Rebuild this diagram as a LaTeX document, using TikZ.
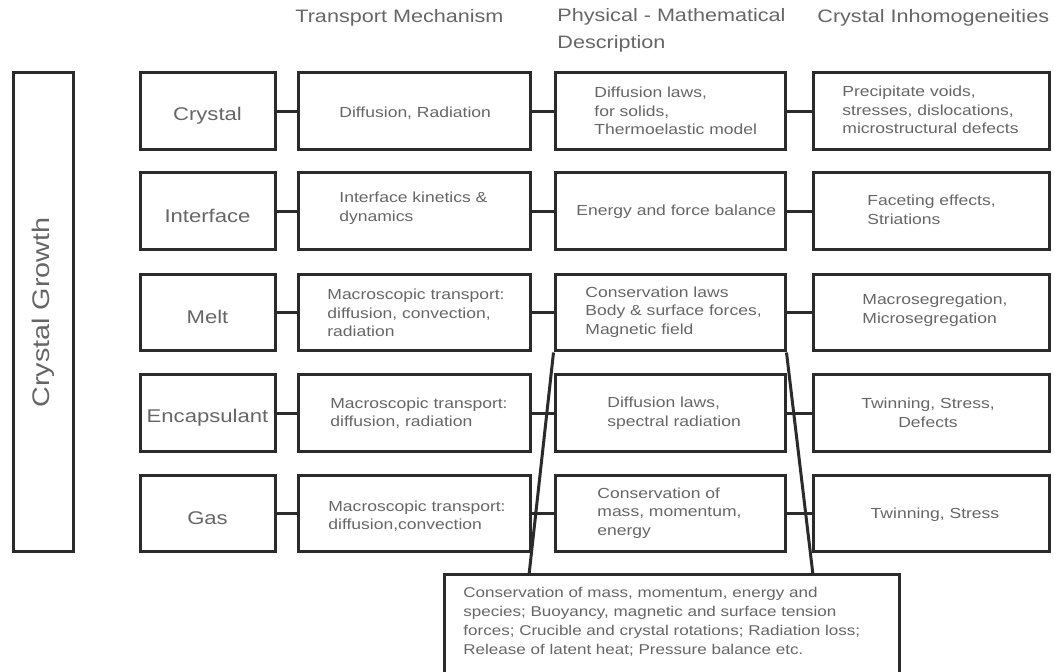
\documentclass[tikz,border=0pt]{standalone}
\usepackage{fontspec}
\setmainfont{Liberation Sans}[FakeStretch=1.2]
\usetikzlibrary{fit}
\definecolor{linec}{gray}{0.17}
\definecolor{txtc}{gray}{0.4}
\begin{document}
\begin{tikzpicture}[x=0.5pt,y=-0.5pt,
  box/.style={draw=linec, line width=1.5pt, inner sep=0pt, fill=none},
  conn/.style={draw=linec, line width=1.5pt},
  txt/.style={text=txtc, inner sep=0pt, align=left, font=\fontsize{7.3pt}{9.25pt}\selectfont},
  ctxt/.style={txt, align=center},
  lbl/.style={text=txtc, inner sep=0pt, font=\fontsize{9.2pt}{11pt}\selectfont},
  head/.style={text=txtc, inner sep=0pt, align=left, anchor=west, font=\fontsize{9pt}{13.5pt}\selectfont},
  bottxt/.style={text=txtc, inner sep=0pt, align=left, anchor=west, font=\fontsize{7.1pt}{9.5pt}\selectfont}]
\useasboundingbox (0,0) rectangle (1054,672);
\clip (0,0) rectangle (1054,672);

% headers
\node[head] (h1) at (295,18) {Transport Mechanism};
\node[head, anchor=north west] (h2) at (557,8) {Physical - Mathematical\\Description};
\node[head] (h3) at (817,18) {Crystal Inhomogeneities};

% crystal growth bar
\node[box, fit={(13,73) (73,552)}] (cg) {};
\node[text=txtc, inner sep=0pt, rotate=90, font=\fontsize{12pt}{14pt}\selectfont] (cgt) at (cg.center) {Crystal Growth};

% column 1
\node[box, fit={(140,73) (275,150)}] (a1) {};
\node[box, fit={(140,173) (275,250)}] (a2) {};
\node[box, fit={(140,275) (275,351)}] (a3) {};
\node[box, fit={(140,375) (275,452)}] (a4) {};
\node[box, fit={(140,476) (275,552)}] (a5) {};
\node[lbl] (ta1) at ([yshift=-2pt]a1.center) {Crystal};
\node[lbl] (ta2) at ([yshift=-2pt]a2.center) {Interface};
\node[lbl] (ta3) at ([yshift=-2pt]a3.center) {Melt};
\node[lbl] (ta4) at ([yshift=-2pt]a4.center) {Encapsulant};
\node[lbl] (ta5) at ([yshift=-2pt]a5.center) {Gas};

% column 2
\node[box, fit={(298,73) (530,150)}] (b1) {};
\node[box, fit={(298,173) (530,250)}] (b2) {};
\node[box, fit={(298,275) (530,351)}] (b3) {};
\node[box, fit={(298,375) (530,452)}] (b4) {};
\node[box, fit={(298,476) (530,552)}] (b5) {};
\node[txt, anchor=west] (tb1) at (339,113) {Diffusion, Radiation};
\node[txt, anchor=west] (tb2) at (339,208) {Interface kinetics \&\\dynamics};
\node[txt, anchor=west] (tb3) at (327,313) {Macroscopic transport:\\diffusion, convection,\\radiation};
\node[txt, anchor=west] (tb4) at (330,413) {Macroscopic transport:\\diffusion, radiation};
\node[txt, anchor=west] (tb5) at (328,516) {Macroscopic transport:\\diffusion,convection};

% column 3
\node[box, fit={(555,73) (785,150)}] (c1) {};
\node[box, fit={(555,173) (785,250)}] (c2) {};
\node[box, fit={(555,275) (785,351)}] (c3) {};
\node[box, fit={(555,375) (785,452)}] (c4) {};
\node[box, fit={(555,476) (785,552)}] (c5) {};
\node[txt, anchor=west] (tc1) at (594,111) {Diffusion laws,\\for solids,\\Thermoelastic model};
\node[txt, anchor=west] (tc2) at (576,212) {Energy and force balance};
\node[txt, anchor=west] (tc3) at (585,312) {Conservation laws\\Body \& surface forces,\\Magnetic field};
\node[txt, anchor=west] (tc4) at (607,413) {Diffusion laws,\\spectral radiation};
\node[txt, anchor=west] (tc5) at (597,513) {Conservation of\\mass, momentum,\\energy};

% column 4
\node[box, fit={(813,73) (1049,150)}] (d1) {};
\node[box, fit={(813,173) (1049,250)}] (d2) {};
\node[box, fit={(813,275) (1049,351)}] (d3) {};
\node[box, fit={(813,375) (1049,452)}] (d4) {};
\node[box, fit={(813,476) (1049,552)}] (d5) {};
\node[txt, anchor=west] (td1) at (842,110) {Precipitate voids,\\stresses, dislocations,\\microstructural defects};
\node[txt, anchor=west] (td2) at (867,210) {Faceting effects,\\Striations};
\node[txt, anchor=west] (td3) at (862,310) {Macrosegregation,\\Microsegregation};
\node[ctxt] (td4) at (928,413) {Twinning, Stress,\\Defects};
\node[ctxt] (td5) at (935,515) {Twinning, Stress};

% connectors
\foreach \i in {1,...,5}{
  \draw[conn] (a\i.east) -- (a\i.east -| b\i.west);
  \draw[conn] (b\i.east) -- (b\i.east -| c\i.west);
  \draw[conn] (c\i.east) -- (c\i.east -| d\i.west);
}

% bottom box
\node[box, fill=white, fit={(444,575) (899,700)}] (bot) {};
\node[bottxt] (tbot) at (463,621.5) {Conservation of mass, momentum, energy and\\species; Buoyancy, magnetic and surface tension\\forces; Crucible and crystal rotations; Radiation loss;\\Release of latent heat; Pressure balance etc.};
\coordinate (botL) at (529,575);
\coordinate (botR) at (813,575);
\draw[conn] (c3.south west) -- (botL);
\draw[conn] (c3.south east) -- (botR);
\end{tikzpicture}
\end{document}
